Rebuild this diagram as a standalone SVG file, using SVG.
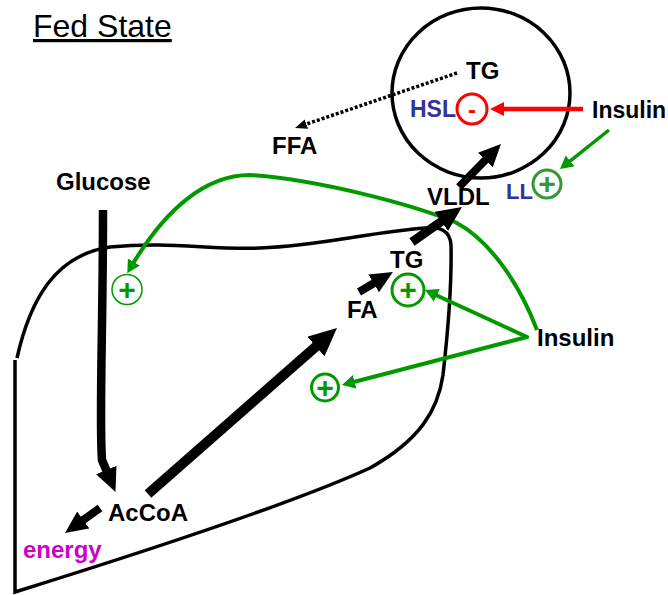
<svg xmlns="http://www.w3.org/2000/svg" width="668" height="595" viewBox="0 0 668 595">
<style>
text{font-family:"Liberation Sans",Arial,sans-serif;font-weight:bold;font-size:24px;fill:#000}
.title{font-weight:normal;font-size:32px;text-decoration:underline}
.enz{fill:#333399}
.pl{fill:#009900;font-size:30px;text-anchor:middle}
.shape{fill:none;stroke:#000;stroke-width:3.5}
.pc{fill:#fff;stroke:#009900;stroke-width:3}
.blk{fill:none;stroke:#000}
.grn{fill:none;stroke:#009900;stroke-width:4}
</style>
<defs>
<marker id="ah" viewBox="0 0 2.8 2.6" markerWidth="2.8" markerHeight="2.6" refX="0.5" refY="1.3" orient="auto" markerUnits="strokeWidth"><path d="M0,0 L2.8,1.3 L0,2.6 z" fill="#000"/></marker>
<marker id="gh" viewBox="0 0 13 14" markerWidth="13" markerHeight="14" refX="3" refY="7" orient="auto" markerUnits="userSpaceOnUse"><path d="M0,0 L13,7 L0,14 z" fill="#009900"/></marker>
<marker id="rh" viewBox="0 0 14 14" markerWidth="14" markerHeight="14" refX="4" refY="7" orient="auto" markerUnits="userSpaceOnUse"><path d="M0,0 L14,7 L0,14 z" fill="#ff0000"/></marker>
<marker id="dh" viewBox="0 0 12 10" markerWidth="12" markerHeight="10" refX="4" refY="5" orient="auto" markerUnits="userSpaceOnUse"><path d="M0,0 L12,5 L0,10 z" fill="#000"/></marker>
</defs>
<rect width="668" height="595" fill="#fff"/>
<g id="title"><text class="title" x="33" y="37">Fed State</text></g>
<g id="adipocyte"><ellipse class="shape" cx="481" cy="93" rx="89" ry="85"/></g>
<g id="liver"><path class="shape" d="M17,358 C30,300 55,255 110,247 C170,241 210,250 260,248 C320,246 370,232 425,228 C440,227 450,230 451,245 C452,290 447,340 443,375 C438,410 420,440 370,468 C300,500 150,550 15,592 L15,360"/></g>
<g id="connectors">
<path class="grn" d="M537,330 C520,285 490,240 455,222 C410,204 320,180 250,175 C205,175 165,210 132.4,264.6" marker-end="url(#gh)"/>
<line class="grn" x1="527" y1="337" x2="434.1" y2="294.2" stroke-linecap="round" marker-end="url(#gh)"/>
<line class="grn" x1="527" y1="337" x2="351.7" y2="382.5" stroke-linecap="round" marker-end="url(#gh)"/>
<line class="grn" x1="609" y1="130" x2="567.8" y2="162.8" style="stroke-width:3.5" marker-end="url(#gh)"/>
<line x1="583" y1="109" x2="500" y2="109" stroke="#ff0000" stroke-width="4.5" marker-end="url(#rh)"/>
<line x1="457" y1="73" x2="302.6" y2="125.4" stroke="#000" stroke-width="3.5" stroke-dasharray="3,2" marker-end="url(#dh)"/>
<path class="blk" stroke-width="8.5" d="M103,210 C103,330 99,420 102,460 L107.9,474" marker-end="url(#ah)"/>
<line class="blk" stroke-width="10" x1="148" y1="494" x2="319.7" y2="343.2" marker-end="url(#ah)"/>
<line class="blk" stroke-width="8" x1="359" y1="292" x2="377.1" y2="281.3" marker-end="url(#ah)"/>
<line class="blk" stroke-width="9" x1="412" y1="242" x2="445" y2="218.9" marker-end="url(#ah)"/>
<line class="blk" stroke-width="8" x1="459" y1="187" x2="488.1" y2="157.2" marker-end="url(#ah)"/>
<line class="blk" stroke-width="8" x1="100" y1="508" x2="80" y2="522.3" marker-end="url(#ah)"/>
</g>
<g id="tg-adipose"><text x="466" y="79">TG</text></g>
<g id="hsl"><text class="enz" x="410" y="117" style="font-size:23px">HSL</text><circle cx="472" cy="109" r="15" fill="#fff" stroke="#ff0000" stroke-width="3"/><text x="472" y="118" text-anchor="middle" style="fill:#ff0000">-</text></g>
<g id="insulin-top"><text x="592" y="118" style="font-size:23px">Insulin</text></g>
<g id="ffa"><text x="272" y="154">FFA</text></g>
<g id="glucose"><text x="56" y="190">Glucose</text></g>
<g id="vldl"><text x="427" y="205">VLDL</text></g>
<g id="ll"><text class="enz" x="506" y="199" style="font-size:22px">LL</text><circle cx="547" cy="184" r="14" fill="#fff" stroke="#339933" stroke-width="3"/><text class="pl" x="547" y="194" style="fill:#339933">+</text></g>
<g id="tg-liver"><text x="390" y="268">TG</text></g>
<g id="plus-tg"><circle class="pc" cx="408" cy="290" r="16"/><text class="pl" x="408" y="300">+</text></g>
<g id="plus-left"><circle class="pc" cx="127" cy="289.5" r="15" style="stroke-width:1.5"/><text class="pl" x="127" y="300">+</text></g>
<g id="plus-low"><circle class="pc" cx="325" cy="387.5" r="13.5"/><text class="pl" x="325" y="397.5">+</text></g>
<g id="fa"><text x="347" y="318">FA</text></g>
<g id="insulin-mid"><text x="537" y="346">Insulin</text></g>
<g id="accoa"><text x="108" y="521">AcCoA</text></g>
<g id="energy"><text x="23" y="558" style="fill:#cc00cc">energy</text></g>
</svg>
